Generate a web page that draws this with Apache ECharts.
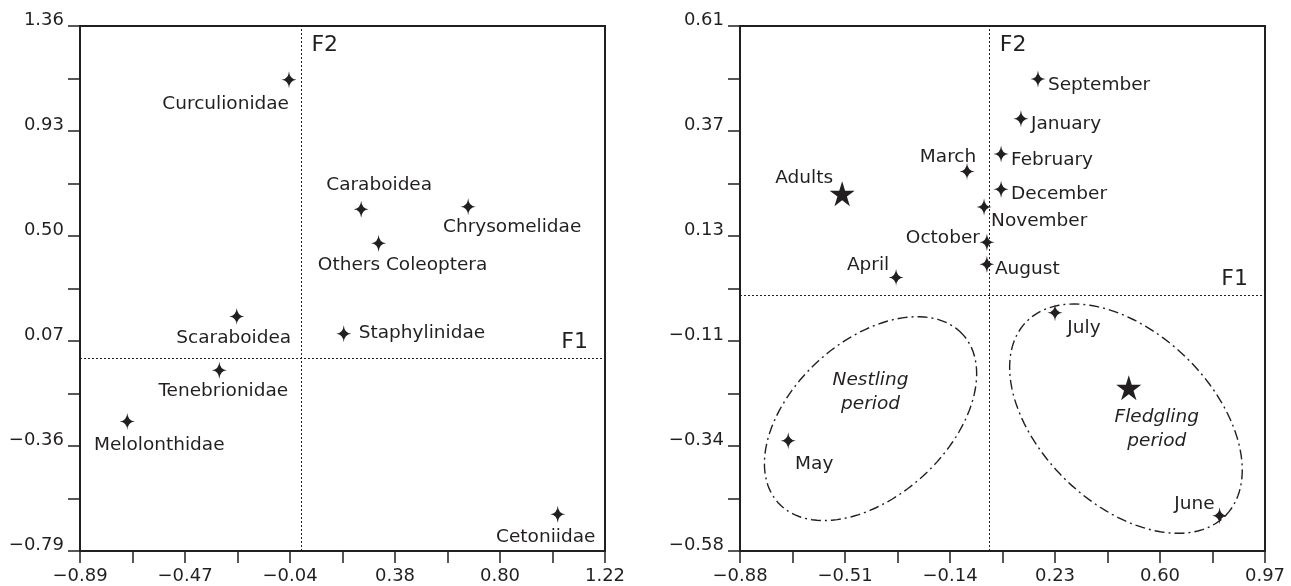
<!DOCTYPE html>
<html>
<head>
<meta charset="utf-8">
<script src="https://cdn.jsdelivr.net/npm/echarts@6/dist/echarts.min.js"></script>
<style>
html,body{margin:0;padding:0;background:#fff;}
#chart{width:1291px;height:586px;}
</style>
</head>
<body>
<div id="chart"></div>
<script>
// ---------- DATA ----------
// Left panel: insect taxa
const leftNames = ['Curculionidae','Caraboidea','Chrysomelidae','Others Coleoptera','Scaraboidea','Tenebrionidae','Melolonthidae','Staphylinidae','Cetoniidae'];
const leftF1 = [-0.05, 0.24, 0.67, 0.31, -0.26, -0.33, -0.70, 0.17, 1.03];
const leftF2 = [1.14, 0.61, 0.62, 0.47, 0.17, -0.05, -0.26, 0.10, -0.64];

// Right panel: months
const rightNames = ['September','January','February','March','December','November','October','August','April','May','July','June'];
const rightF1 = [0.17, 0.11, 0.04, -0.08, 0.04, -0.02, -0.01, -0.01, -0.33, -0.71, 0.23, 0.81];
const rightF2 = [0.49, 0.40, 0.32, 0.28, 0.24, 0.20, 0.12, 0.07, 0.04, -0.33, -0.04, -0.50];

// Right panel: age groups (large stars)
const groupNames = ['Adults', 'Fledgling\nperiod'];
const groupF1 = [-0.52, 0.49];
const groupF2 = [0.23, -0.21];

// Right panel: period ellipses [centerF1, centerF2, axis1 dF1, axis1 dF2, axis2 dF1, axis2 dF2]
const nestlingEllipse = [-0.42, -0.28, 0.325, 0.191, -0.185, 0.130];
const fledglingEllipse = [0.48, -0.28, 0.352, -0.219, 0.210, 0.140];
const nestlingText = ['Nestling\nperiod'];
const nestlingTextPos = [-0.42, -0.22];

// Axis origin
const origin = [0, 0];

// Tick labels
const leftXTicks = ['\u22120.89','\u22120.47','\u22120.04','0.38','0.80','1.22'];
const leftYTicks = ['\u22120.79','\u22120.36','0.07','0.50','0.93','1.36'];
const rightXTicks = ['\u22120.88','\u22120.51','\u22120.14','0.23','0.60','0.97'];
const rightYTicks = ['\u22120.58','\u22120.34','\u22120.11','0.13','0.37','0.61'];

// ---------- STYLE ----------
const INK = '#231f20';
const FONT = 'DejaVu Sans';
const sparkle = 'path://M50,0 Q54,46 100,50 Q54,54 50,100 Q46,54 0,50 Q46,46 50,0 Z';
const bigStar = 'path://M50,0 L61.17,34.63 L97.55,34.55 L68.07,55.87 L79.39,90.45 L50,69 L20.61,90.45 L31.93,55.87 L2.45,34.55 L38.83,34.63 Z';

// label placement: [align, dx, dy]
const leftPlace = {
  'Curculionidae':['right',0,24], 'Caraboidea':['center',18,-24], 'Chrysomelidae':['center',44,20],
  'Others Coleoptera':['center',24,22], 'Scaraboidea':['center',-3,22], 'Tenebrionidae':['center',4,21],
  'Melolonthidae':['center',32,24], 'Staphylinidae':['left',15,0], 'Cetoniidae':['center',-12,23]
};
const rightPlace = {
  'September':['left',10,6], 'January':['left',10,6], 'February':['left',10,6], 'March':['center',-19,-14],
  'December':['left',10,5], 'November':['left',7,14], 'October':['right',-7,-4], 'August':['left',8,5],
  'April':['center',-28,-12], 'May':['center',26,23], 'July':['center',29,15], 'June':['right',-5,-12]
};
const groupPlace = [['center',-38,-15], ['center',28,41]];

function tickSet(labels, min, max) {
  const n = labels.length - 1;
  const major = labels.map((_, i) => i === n ? max : (i === 0 ? min : min + i * (max - min) / n));
  const minor = [];
  for (let i = 0; i < n; i++) minor.push((major[i] + major[i + 1]) / 2);
  return {
    major, ticks: major.concat(minor),
    fmt: (v) => labels[Math.round((v - min) / (max - min) * n)]
  };
}

const ranges = {
  lx: [-0.89, 1.22], ly: [-0.79, 1.36],
  rx: [-0.88, 0.97], ry: [-0.58, 0.61]
};

function makeAxis(kind, gridIndex, labels, range) {
  const t = tickSet(labels, range[0], range[1]);
  const isX = kind === 'x';
  return {
    gridIndex, type: 'value', min: range[0], max: range[1],
    axisLine: { show: true, onZero: false, lineStyle: { color: INK, width: 2 } },
    axisTick: { show: true, inside: false, length: 12, customValues: t.ticks, lineStyle: { color: INK, width: 1.5 } },
    axisLabel: {
      show: true, customValues: t.major, formatter: t.fmt, showMinLabel: true, showMaxLabel: true,
      color: INK, fontFamily: FONT, fontSize: 18,
      margin: 16,
      verticalAlign: isX ? 'top' : 'bottom',
      lineHeight: isX ? 18 : 12
    },
    splitLine: { show: false }
  };
}

function pointData(names, xs, ys, place) {
  return names.map((n, i) => {
    const p = place[n];
    return { name: n, value: [xs[i], ys[i]], label: { align: p[0], offset: [p[1], p[2]] } };
  });
}

const labelBase = { show: true, position: 'inside', formatter: '{b}', color: INK, fontFamily: FONT, fontSize: 18.5, verticalAlign: 'middle' };

function originSeries(idx, xr, yr) {
  return [{
    type: 'scatter', xAxisIndex: idx, yAxisIndex: idx, silent: true, z: 1,
    symbol: 'emptyCircle', symbolSize: 9,
    itemStyle: { color: '#fff', borderColor: INK, borderWidth: 1, opacity: 1 },
    data: [origin],
    markLine: {
      silent: true, symbol: 'none', animation: false,
      label: { show: false },
      lineStyle: { color: INK, width: 1, type: [2, 2] },
      data: [{ xAxis: origin[0] }, { yAxis: origin[1] }]
    }
  }, {
    type: 'scatter', xAxisIndex: idx, yAxisIndex: idx, silent: true, z: 3,
    symbolSize: 0, itemStyle: { opacity: 1 },
    label: { show: true, position: 'inside', formatter: '{b}', color: INK, fontFamily: FONT, fontSize: 22 },
    data: [
      { name: 'F2', value: [origin[0], yr[1]], label: { align: 'left', offset: [10, 19] } },
      { name: 'F1', value: [xr[1], origin[1]], label: { align: 'right', offset: [-17, -16] } }
    ]
  }];
}

const option = {
  animation: false,
  backgroundColor: '#fff',
  grid: [
    { left: 80, top: 26, width: 525, height: 525, show: true, borderColor: INK, borderWidth: 2, backgroundColor: 'transparent' },
    { left: 740, top: 26, width: 525, height: 525, show: true, borderColor: INK, borderWidth: 2, backgroundColor: 'transparent' }
  ],
  xAxis: [makeAxis('x', 0, leftXTicks, ranges.lx), makeAxis('x', 1, rightXTicks, ranges.rx)],
  yAxis: [makeAxis('y', 0, leftYTicks, ranges.ly), makeAxis('y', 1, rightYTicks, ranges.ry)],
  series: [
    ...originSeries(0, ranges.lx, ranges.ly),
    ...originSeries(1, ranges.rx, ranges.ry),
    {
      type: 'custom', xAxisIndex: 1, yAxisIndex: 1, silent: true, z: 2,
      data: [nestlingEllipse, fledglingEllipse],
      encode: { x: 0, y: 1 },
      renderItem: function (params, api) {
        const cx = api.value(0), cy = api.value(1), ux = api.value(2), uy = api.value(3), vx = api.value(4), vy = api.value(5);
        const pts = [];
        const N = 120;
        for (let k = 0; k < N; k++) {
          const t = 2 * Math.PI * k / N;
          pts.push(api.coord([cx + ux * Math.cos(t) + vx * Math.sin(t), cy + uy * Math.cos(t) + vy * Math.sin(t)]));
        }
        return { type: 'polygon', shape: { points: pts }, style: { fill: 'none', stroke: INK, lineWidth: 1.4, lineDash: [10, 4, 2, 4] } };
      }
    },
    {
      type: 'scatter', xAxisIndex: 0, yAxisIndex: 0, z: 5, silent: true,
      symbol: sparkle, symbolSize: [15, 17], itemStyle: { color: INK, opacity: 1 },
      label: labelBase,
      data: pointData(leftNames, leftF1, leftF2, leftPlace)
    },
    {
      type: 'scatter', xAxisIndex: 1, yAxisIndex: 1, z: 5, silent: true,
      symbol: sparkle, symbolSize: [15, 17], itemStyle: { color: INK, opacity: 1 },
      label: labelBase,
      data: pointData(rightNames, rightF1, rightF2, rightPlace)
    },
    {
      type: 'scatter', xAxisIndex: 1, yAxisIndex: 1, z: 5, silent: true,
      symbol: bigStar, symbolSize: [25, 25], itemStyle: { color: INK, opacity: 1 },
      label: labelBase,
      data: groupNames.map((n, i) => ({
        name: n, value: [groupF1[i], groupF2[i]],
        label: i === 1
          ? { align: groupPlace[i][0], offset: [groupPlace[i][1], groupPlace[i][2]], fontStyle: 'italic', lineHeight: 24 }
          : { align: groupPlace[i][0], offset: [groupPlace[i][1], groupPlace[i][2]] }
      }))
    },
    {
      type: 'scatter', xAxisIndex: 1, yAxisIndex: 1, z: 5, silent: true,
      symbolSize: 0, itemStyle: { opacity: 1 },
      label: { show: true, position: 'inside', formatter: '{b}', color: INK, fontFamily: FONT, fontSize: 18.5, fontStyle: 'italic', lineHeight: 24 },
      data: nestlingText.map((n) => ({ name: n, value: nestlingTextPos }))
    }
  ]
};

const chart = echarts.init(document.getElementById('chart'), null, { renderer: 'canvas' });
chart.setOption(option);
</script>
</body>
</html>
